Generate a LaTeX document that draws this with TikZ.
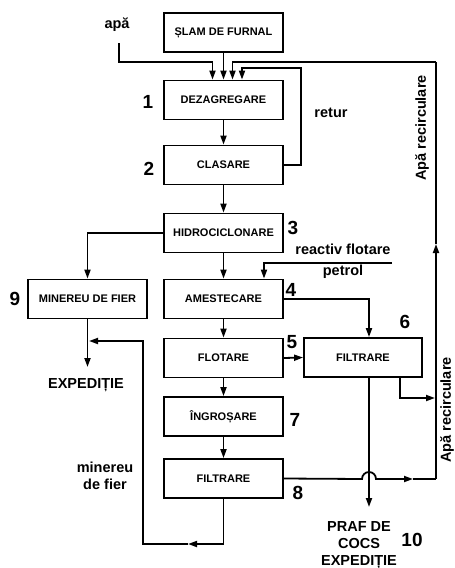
\documentclass[tikz,border=0pt]{standalone}
\usepackage{fontspec}
\setmainfont{Liberation Sans}
\usepackage{tikz}
\usetikzlibrary{arrows.meta}
\tikzset{
  line/.style={draw=black, line width=1.8pt},
  flow/.style={line, -{Triangle[length=9pt,width=6pt]}},
  box/.style={draw=black, line width=1.8pt, minimum width=119pt, minimum height=39pt, inner sep=2pt, font=\fontsize{11}{13}\selectfont\bfseries},
  num/.style={font=\fontsize{19}{21}\selectfont\bfseries, inner sep=0pt},
  lbl/.style={font=\fontsize{14.5}{17}\selectfont\bfseries, inner sep=0pt, align=center}
}

\begin{document}
\begin{tikzpicture}[x=1pt, y=-1pt]
  \useasboundingbox (0,0) rectangle (455,568);

  % process boxes
  \node[box] (slam)  at (223.5,32.5) {ȘLAM DE FURNAL};
  \node[box] (dez)   at (223.5,100)  {DEZAGREGARE};
  \node[box] (clas)  at (223.5,165)  {CLASARE};
  \node[box] (hidro) at (223.5,233)  {HIDROCICLONARE};
  \node[box] (mine)  at (87.5,299)   {MINEREU DE FIER};
  \node[box] (ames)  at (223.5,299)  {AMESTECARE};
  \node[box] (flot)  at (223.5,358)  {FLOTARE};
  \node[box, minimum width=118pt] (filt6) at (363,357.5) {FILTRARE};
  \node[box] (ingr)  at (223.5,416.5) {ÎNGROȘARE};
  \node[box] (filt8) at (223.5,478.5) {FILTRARE};

  % numbers
  \node[num] at (148,102) {1};
  \node[num] at (149,169) {2};
  \node[num] at (293,228) {3};
  \node[num] at (291,290) {4};
  \node[num] at (292,342) {5};
  \node[num] at (405,322) {6};
  \node[num] at (295,420) {7};
  \node[num] at (298,493) {8};
  \node[num] at (15,299)  {9};
  \node[num] at (412,540) {10};

  % texts
  \node[lbl] (apa)    at (117,25)  {apă};
  \node[lbl] (retur)  at (331,113) {retur};
  \node[lbl] (react)  at (343,249) {reactiv flotare};
  \node[lbl] (petrol) at (343,272) {petrol};
  \node[lbl] (exp1)   at (86,385)  {EXPEDIȚIE};
  \node[lbl] (minf)   at (105,476) {minereu\\de fier};
  \node[lbl] (praf)   at (359,545) {PRAF DE\\COCS\\EXPEDIȚIE};
  \node[lbl, rotate=90] (rec1) at (422,128) {Apă recirculare};
  \node[lbl, rotate=90] (rec2) at (447,410) {Apă recirculare};

  % free ends
  \coordinate (apaIn) at (119,43);
  \coordinate (rcTop) at (436,62);
  \coordinate (rcMid) at (436,244);
  \coordinate (rcLow) at (436,479);
  \coordinate (rtTop) at (301,68);
  \coordinate (reIn)  at (392,263);
  \coordinate (expA)  at (87.5,367);
  \coordinate (prafA) at (369,507);
  \coordinate (r6)    at (435,398);
  \coordinate (bumpL) at (362,479);
  \coordinate (mid8)  at (413,479);
  \coordinate (retM)  at (188,544);
  \coordinate (retL)  at (143,341);
  \coordinate (retE)  at (89,341);

  % main line
  \draw[flow] (slam) -- (dez);
  \draw[flow] (dez) -- (clas);
  \draw[flow] (clas) -- (hidro);
  \draw[flow] (hidro) -- (ames);
  \draw[flow] (ames) -- (flot);
  \draw[flow] (flot) -- (ingr);
  \draw[flow] (ingr) -- (filt8);
  \draw[flow] (flot.east) -- (filt6.west);

  % inputs to dezagregare
  \draw[flow] (apaIn) -- (119,62) -| ([xshift=-11pt]dez.north);
  \draw[flow] (rcTop) -| ([xshift=9pt]dez.north);
  \draw[flow] (clas.east) -| (rtTop) -| ([xshift=18.5pt]dez.north);

  % side branches
  \draw[flow] (hidro.west) -| (mine.north);
  \draw[flow] (mine.south) -- (expA);
  \draw[flow] (reIn) -| ([xshift=40.5pt]ames.north);
  \draw[flow] (ames.east) -| ([xshift=6pt]filt6.north);
  \draw[flow] ([xshift=6pt]filt6.south) -- (prafA);
  \draw[flow] ([xshift=37pt]filt6.south) |- (r6);

  % water back to the top
  \draw[flow] (filt8.east) -- (bumpL) arc[start angle=180, end angle=0, radius=7pt] -- (mid8);
  \draw[line] (mid8) -- (rcLow);
  \draw[flow] (rcLow) -- (rcMid);
  \draw[line] (rcMid) -- (rcTop);

  % ore return
  \draw[flow] (filt8.south) |- (retM);
  \draw[flow] (retM) -| (retL) -- (retE);
\end{tikzpicture}
\end{document}
